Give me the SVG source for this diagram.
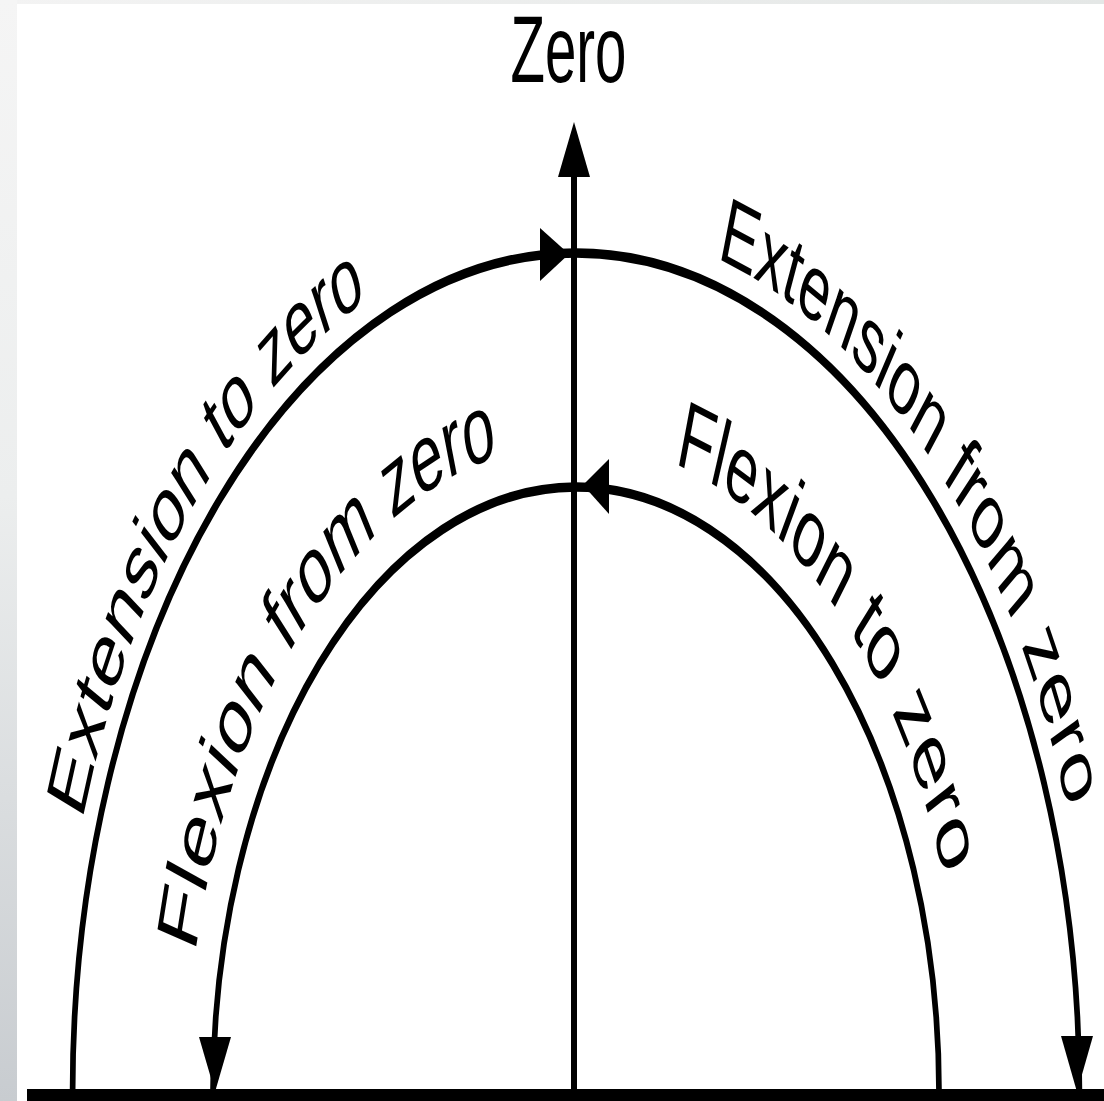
<svg xmlns="http://www.w3.org/2000/svg" width="1104" height="1101" viewBox="0 0 1104 1101">
  <defs>
    <linearGradient id="sideGrad" x1="0" y1="0" x2="0" y2="1">
      <stop offset="0" stop-color="#f5f5f5"/>
      <stop offset="0.45" stop-color="#eceeee"/>
      <stop offset="1" stop-color="#c8ccd0"/>
    </linearGradient>
    <linearGradient id="topGrad" x1="0" y1="0" x2="1" y2="0">
      <stop offset="0" stop-color="#f3f3f3"/>
      <stop offset="1" stop-color="#e4e7e6"/>
    </linearGradient>
    <path id="outerLabelPath" d="M -290 1092 A 866 866 0 0 1 1442 1092"/>
    <path id="innerLabelPath" d="M -73 1092 A 649 649 0 0 1 1225 1092"/>
    <style>
      .arc { fill: none; stroke: #000; stroke-width: 9.5; }
      .axis { stroke: #000; stroke-width: 6; }
      .head { fill: #000; }
      .lbl { font-family: "Liberation Sans", Arial, sans-serif; font-size: 94px; fill: #000; }
      .inner { font-size: 97px; }
    </style>
  </defs>

  <g id="background">
    <rect x="0" y="0" width="1104" height="1101" fill="#ffffff"/>
    <rect x="0" y="0" width="1104" height="4" fill="url(#topGrad)"/>
    <rect x="0" y="0" width="17" height="1101" fill="url(#sideGrad)"/>
    <rect x="27" y="1089" width="1077" height="12" fill="#000"/>
  </g>

  <g id="axis">
    <line class="axis" x1="574" y1="170" x2="574" y2="1092"/>
    <polygon class="head" points="574,122 558,177 590,177"/>
  </g>

  <g id="connectors">
    <g transform="matrix(0.6 0 0 1 230.4 0)">
      <path id="outerArc" class="arc" d="M -263 1092 A 839 839 0 0 1 1415 1092"/>
      <path id="innerArc" class="arc" d="M -29 1092 A 605 605 0 0 1 1181 1092"/>
    </g>
    <polygon class="head" points="569,254 540,228 540,281"/>
    <polygon class="head" points="583,485 609,459 609,514"/>
    <polygon class="head" points="215,1092 199,1037 231,1037"/>
    <polygon class="head" points="1077,1092 1061,1036 1093,1036"/>
  </g>

  <g id="labels" transform="matrix(0.6 0 0 1 230.4 0)">
    <g id="label-zero">
      <text class="lbl" x="563.5" y="82" text-anchor="middle" font-size="96">Zero</text>
    </g>
    <g id="label-extension-to-zero">
      <text class="lbl"><textPath href="#outerLabelPath" startOffset="275">Extension to zero</textPath></text>
    </g>
    <g id="label-extension-from-zero">
      <text class="lbl"><textPath href="#outerLabelPath" startOffset="1598">Extension from zero</textPath></text>
    </g>
    <g id="label-flexion-from-zero">
      <text class="lbl inner"><textPath href="#innerLabelPath" startOffset="139">Flexion from zero</textPath></text>
    </g>
    <g id="label-flexion-to-zero">
      <text class="lbl inner"><textPath href="#innerLabelPath" startOffset="1185">Flexion to zero</textPath></text>
    </g>
  </g>
</svg>
